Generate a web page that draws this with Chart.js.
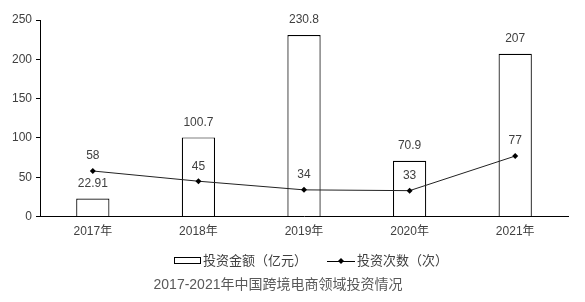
<!DOCTYPE html>
<html>
<head>
<meta charset="utf-8">
<script src="https://cdn.jsdelivr.net/npm/chart.js@4/dist/chart.umd.min.js"></script>
<style>
  html, body { margin: 0; padding: 0; background: #fff; }
  #wrap { width: 585px; height: 302px; }
</style>
</head>
<body>
<div id="wrap"><canvas id="myChart"></canvas></div>
<script>
const years = ["2017年", "2018年", "2019年", "2020年", "2021年"];
const amount = [22.91, 100.7, 230.8, 70.9, 207];
const times = [58, 45, 34, 33, 77];
const yTicks = [0, 50, 100, 150, 200, 250];
const chartTitle = "2017-2021年中国跨境电商领域投资情况";

const FONT = "'Liberation Sans', 'Noto Sans CJK SC', sans-serif";

// value labels above bars and points
const labelPlugin = {
  id: "labels",
  afterDatasetsDraw(chart) {
    const ctx = chart.ctx;
    ctx.save();
    ctx.font = "12px " + FONT;
    ctx.fillStyle = "#404040";
    ctx.textAlign = "center";
    ctx.textBaseline = "middle";
    chart.data.datasets.forEach((ds, i) => {
      const meta = chart.getDatasetMeta(i);
      meta.data.forEach((el, j) => {
        ctx.fillText(String(ds.data[j]), el.x, el.y - 15);
      });
    });
    ctx.restore();
  },
};

// legend (box for bars, line with diamond) and title under it
const legendPlugin = {
  id: "myLegend",
  afterDraw(chart) {
    const ctx = chart.ctx;
    const y = 261;
    ctx.save();
    ctx.font = "13px " + FONT;
    ctx.fillStyle = "#404040";
    ctx.textBaseline = "middle";
    ctx.strokeStyle = "#000";
    ctx.lineWidth = 1;
    ctx.strokeRect(174.5, y - 3.5, 26, 6);
    ctx.fillText("投资金额（亿元）", 203, y);
    ctx.beginPath();
    ctx.moveTo(327, y + 0.5);
    ctx.lineTo(355, y + 0.5);
    ctx.stroke();
    ctx.fillStyle = "#000";
    ctx.beginPath();
    ctx.moveTo(341, y - 3);
    ctx.lineTo(344, y);
    ctx.lineTo(341, y + 3);
    ctx.lineTo(338, y);
    ctx.closePath();
    ctx.fill();
    ctx.fillStyle = "#404040";
    ctx.fillText("投资次数（次）", 357, y);

    ctx.font = "14px " + FONT;
    ctx.fillStyle = "#595959";
    ctx.textAlign = "center";
    ctx.fillText(chartTitle, 278, 285);
    ctx.restore();
  },
};

new Chart(document.getElementById("myChart"), {
  data: {
    labels: years,
    datasets: [
      {
        type: "line",
        label: "投资次数（次）",
        data: times,
        borderColor: "#222",
        backgroundColor: "#000",
        borderWidth: 1,
        pointStyle: "rectRot",
        pointRadius: 3,
        pointBorderWidth: 0,
        order: 0,
      },
      {
        type: "bar",
        label: "投资金额（亿元）",
        data: amount,
        backgroundColor: "#fff",
        borderColor: "#000",
        borderWidth: 1.2,
        barPercentage: 0.63,
        categoryPercentage: 0.5,
        order: 1,
      },
    ],
  },
  options: {
    responsive: true,
    maintainAspectRatio: false,
    animation: false,
    layout: { padding: { top: 20, right: 17, bottom: 55, left: 8 } },
    plugins: {
      legend: { display: false },
      tooltip: { enabled: false },
      title: { display: false },
    },
    scales: {
      x: {
        grid: { display: false, drawTicks: false },
        border: { color: "#000", width: 1 },
        ticks: { color: "#404040", font: { size: 12, family: FONT }, padding: 8 },
      },
      y: {
        min: 0,
        max: 250,
        afterBuildTicks(axis) {
          axis.ticks = yTicks.map((v) => ({ value: v }));
        },
        grid: { display: true, drawOnChartArea: false, drawTicks: true, tickLength: 4, color: "#000" },
        border: { color: "#000", width: 1 },
        ticks: { color: "#404040", font: { size: 12, family: FONT }, padding: 4 },
      },
    },
  },
  plugins: [labelPlugin, legendPlugin],
});
</script>
</body>
</html>
